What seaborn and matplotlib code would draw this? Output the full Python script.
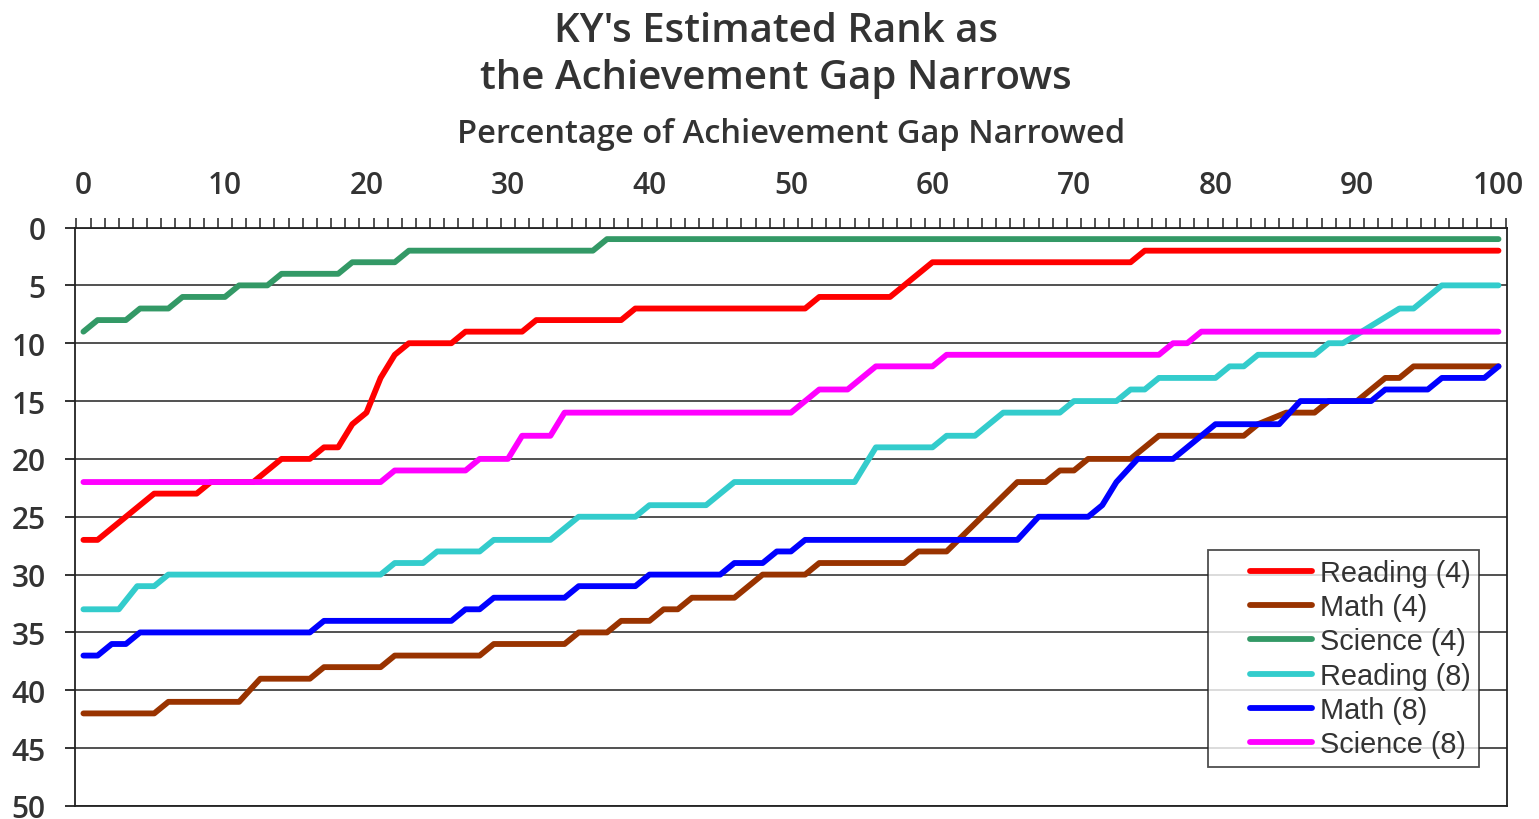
import numpy as np
import pandas as pd
import matplotlib
matplotlib.use("Agg")
import matplotlib.pyplot as plt
from matplotlib.lines import Line2D
from matplotlib.legend_handler import HandlerLine2D
import seaborn as sns

# Rank (1 = best) vs percentage of achievement gap narrowed; corner points
reading4_x = [0, 1, 5, 8, 9, 12, 14, 16, 17, 18, 19, 20, 21, 22, 23, 26, 27, 31, 32, 38, 39, 51, 52, 57, 60, 74, 75, 100]
reading4_y = [27, 27, 23, 23, 22, 22, 20, 20, 19, 19, 17, 16, 13, 11, 10, 10, 9, 9, 8, 8, 7, 7, 6, 6, 3, 3, 2, 2]

math4_x = [0, 5, 6, 11, 12.5, 16, 17, 21, 22, 28, 29, 34, 35, 37, 38, 40, 41, 42, 43, 46, 48, 51, 52, 58, 59, 61,
           66, 68, 69, 70, 71, 74, 76, 82, 83, 85, 87, 88, 90, 92, 93, 94, 100]
math4_y = [42, 42, 41, 41, 39, 39, 38, 38, 37, 37, 36, 36, 35, 35, 34, 34, 33, 33, 32, 32, 30, 30, 29, 29, 28, 28,
           22, 22, 21, 21, 20, 20, 18, 18, 17, 16, 16, 15, 15, 13, 13, 12, 12]

science4_x = [0, 1, 3, 4, 6, 7, 10, 11, 13, 14, 18, 19, 22, 23, 36, 37, 100]
science4_y = [9, 8, 8, 7, 7, 6, 6, 5, 5, 4, 4, 3, 3, 2, 2, 1, 1]

reading8_x = [0, 2.5, 3.8, 5, 6, 21, 22, 24, 25, 28, 29, 33, 35, 39, 40, 44, 46, 54.5, 56, 60, 61, 63, 65, 69, 70,
              73, 74, 75, 76, 80, 81, 82, 83, 87, 88, 89, 93, 94, 96, 100]
reading8_y = [33, 33, 31, 31, 30, 30, 29, 29, 28, 28, 27, 27, 25, 25, 24, 24, 22, 22, 19, 19, 18, 18, 16, 16, 15,
              15, 14, 14, 13, 13, 12, 12, 11, 11, 10, 10, 7, 7, 5, 5]

math8_x = [0, 1, 2, 3, 4, 16, 17, 26, 27, 28, 29, 34, 35, 39, 40, 45, 46, 48, 49, 50, 51, 66, 67.5, 71, 72, 73,
           74.5, 77, 80, 84.5, 86, 91, 92, 95, 96, 99, 100]
math8_y = [37, 37, 36, 36, 35, 35, 34, 34, 33, 33, 32, 32, 31, 31, 30, 30, 29, 29, 28, 28, 27, 27, 25, 25, 24, 22,
           20, 20, 17, 17, 15, 15, 14, 14, 13, 13, 12]

science8_x = [0, 21, 22, 27, 28, 30, 31, 33, 34, 50, 52, 54, 56, 60, 61, 76, 77, 78, 79, 100]
science8_y = [22, 22, 21, 21, 20, 20, 18, 18, 16, 16, 14, 14, 12, 12, 11, 11, 10, 10, 9, 9]

series_names = ["Reading (4)", "Math (4)", "Science (4)", "Reading (8)", "Math (8)", "Science (8)"]
series_colors = ["#FF0000", "#993300", "#339966", "#33CCCC", "#0000FF", "#FF00FF"]

x_ticks = list(range(0, 101, 10))
y_ticks = list(range(0, 51, 5))

# build long table for seaborn
parts = []
for name, xs, ys in zip(series_names,
                        [reading4_x, math4_x, science4_x, reading8_x, math8_x, science8_x],
                        [reading4_y, math4_y, science4_y, reading8_y, math8_y, science8_y]):
    parts.append(pd.DataFrame({"pct": xs, "rank": ys, "series": name}))
df = pd.concat(parts, ignore_index=True)

sns.set_style("white")
plt.rcParams["font.family"] = ["Open Sans", "DejaVu Sans"]
txt = "#333333"
lw = 4.2

fig = plt.figure(figsize=(15.39, 8.2), dpi=100)
ax = fig.add_axes([0.0487, 0.0159, 0.9305, 0.7054])

sns.lineplot(data=df, x="pct", y="rank", hue="series", hue_order=series_names,
             palette=dict(zip(series_names, series_colors)), estimator=None, sort=False,
             linewidth=lw, ax=ax, legend=True)
for ln in ax.get_lines():
    ln.set_solid_capstyle("round")
    ln.set_solid_joinstyle("round")

ax.set_xlim(-0.6, 100.6)
ax.set_ylim(50, 0)

ax.xaxis.tick_top()
ax.xaxis.set_label_position("top")
ax.set_xticks(x_ticks)
ax.set_xticks(np.arange(-0.5, 100.6, 1.0), minor=True)
ax.tick_params(axis="x", which="major", length=0, pad=20, labelsize=21.5, labelcolor=txt)
ax.tick_params(axis="x", which="minor", length=7, width=1.1, color="#222222", direction="out", top=True)
ax.set_yticks(y_ticks)
ax.tick_params(axis="y", which="major", length=7, width=1.3, color="#222222", direction="out",
               left=True, pad=14, labelsize=21.5, labelcolor=txt)
for lab in ax.get_xticklabels() + ax.get_yticklabels():
    lab.set_fontweight("semibold")

ax.set_xlabel("Percentage of Achievement Gap Narrowed", fontsize=23.5, fontweight="semibold",
              color=txt, labelpad=20)
ax.set_ylabel("")

ax.grid(axis="y", color="#333333", linewidth=1.2)
ax.grid(axis="x", visible=False)
for side in ["left", "right", "top", "bottom"]:
    ax.spines[side].set_visible(True)
    ax.spines[side].set_color("#222222")
    ax.spines[side].set_linewidth(1.3)

fig.text(0.504, 1 - 55.5 / 820, "KY's Estimated Rank as\nthe Achievement Gap Narrows",
         ha="center", va="center", fontsize=29, fontweight="semibold", color=txt, linespacing=1.22)

leg = ax.legend(loc="upper right", bbox_to_anchor=(0.9805, 0.4425), borderaxespad=0,
                frameon=True, fancybox=False, edgecolor="#222222", handlelength=3.3,
                handletextpad=0.25, labelspacing=0.22, borderpad=0.3,
                handler_map={Line2D: HandlerLine2D(xpad=1.15)},
                prop={"family": "Liberation Sans", "size": 20.8})
leg.get_frame().set_linewidth(1.3)
for t in leg.get_texts():
    t.set_color(txt)
for h in leg.get_lines():
    h.set_linewidth(lw)
    h.set_solid_capstyle("round")

fig.savefig("out.png", dpi=100)
